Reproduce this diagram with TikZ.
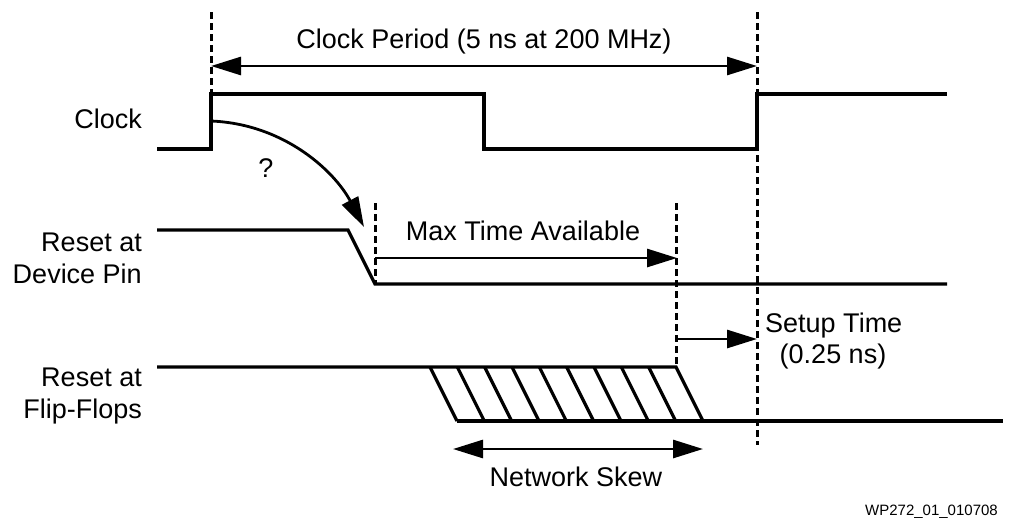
\documentclass[tikz,border=0pt]{standalone}
\usepackage{fontspec}
\setmainfont{Liberation Sans}
\usetikzlibrary{arrows.meta}
\begin{document}
\begin{tikzpicture}[x=1pt,y=-1pt,
  sig/.style={line width=3.2pt, line join=miter},
  guide/.style={line width=3pt, dash pattern=on 7pt off 4pt},
  dim/.style={line width=2.8pt},
  tip/.style={-{Triangle[length=30pt,width=18pt]}},
  tips/.style={{Triangle[length=30pt,width=18pt]}-{Triangle[length=30pt,width=18pt]}},
  lbl/.style={font=\fontsize{27}{32}\selectfont, inner sep=0pt},
  sidelbl/.style={font=\fontsize{27}{32}\selectfont, inner sep=0pt, align=right, anchor=east}]
\useasboundingbox (0,0) rectangle (1010,528);

% Coordinates
\coordinate (c0) at (157,149);
\coordinate (c1) at (211,149);
\coordinate (c2) at (211,94);
\coordinate (c3) at (484,94);
\coordinate (c4) at (484,149);
\coordinate (c5) at (757,149);
\coordinate (c6) at (757,94);
\coordinate (c7) at (947,94);

\coordinate (r0) at (157,230);
\coordinate (r1) at (348,230);
\coordinate (r2) at (375,284);
\coordinate (r3) at (947,284);

\coordinate (f0) at (157,367);
\coordinate (f1) at (676,367);
\coordinate (f2) at (703,421);
\coordinate (f3) at (457,421);
\coordinate (f4) at (1003,421);

% Labels
\node[sidelbl] (lclk) at (142,119) {Clock};
\node[sidelbl] (lrst) at (142,258) {Reset at\\Device Pin};
\node[sidelbl] (lff) at (142,396) {Reset at\\Flip-Flops};

% Guides
\coordinate (g1t) at (211,12);
\coordinate (g2t) at (757,12);
\coordinate (g2b) at (757,445);
\coordinate (g3t) at (375,203);
\coordinate (g4t) at (676,203);
\draw[guide] (g1t) -- (c2);
\draw[guide] (g2t) -- (g2b);
\draw[guide] (g3t) -- (r2);
\draw[guide] (g4t) -- (f1);

% Signals
\draw[sig] (c0) -- (c1) -- (c2) -- (c3) -- (c4) -- (c5) -- (c6) -- (c7);
\draw[sig] (r0) -- (r1) -- (r2) -- (r3);
\draw[sig] (f0) -- (f1) -- (f2);
\draw[sig] (f3) -- (f4);
\foreach \i in {0,...,8}{
  \draw[sig] ({430+27.33*\i},367) -- ({457+27.33*\i},421);
}

% Clock period
\coordinate (cpL) at (211,66);
\coordinate (cpR) at (757,66);
\draw[dim,tips] (cpL) -- (cpR);
\node[lbl] (tcp) at (484,42) {Clock Period (5 ns at 200 MHz)};

% Curved arrow
\coordinate (qa) at (211,121);
\coordinate (qb) at (364,227);
\draw[dim,tip] (qa) .. controls (285,124) and (335,172) .. (qb);
\node[lbl] (tq) at (266,168) {?};

% Max time available
\coordinate (mL) at (375,258);
\coordinate (mR) at (677,258);
\draw[dim,tip] (mL) -- (mR);
\node[lbl] (tm) at (523,231) {Max Time Available};

% Setup time
\coordinate (sL) at (676,339);
\coordinate (sR) at (757,339);
\draw[dim,tip] (sL) -- (sR);
\node[lbl,anchor=west] (ts1) at (765,326) {Setup Time};
\node[lbl] (ts2) at (833,357) {(0.25 ns)};

% Network skew
\coordinate (nL) at (453,449);
\coordinate (nR) at (703,449);
\draw[dim,tips] (nL) -- (nR);
\node[lbl] (tn) at (576,477) {Network Skew};

% Footer
\node[font=\fontsize{15}{17}\selectfont, inner sep=0pt, anchor=east] (foot) at (998,512) {WP272\_01\_010708};
\end{tikzpicture}
\end{document}
